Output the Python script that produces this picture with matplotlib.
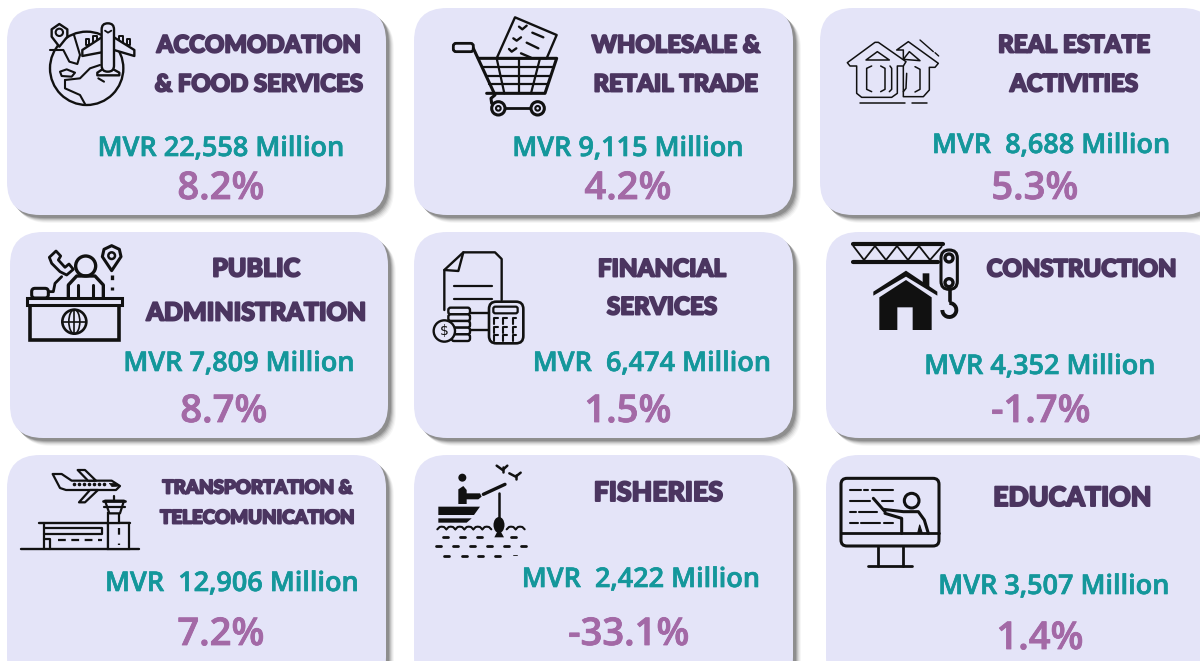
import numpy as np
import matplotlib
matplotlib.use("Agg")
import matplotlib.pyplot as plt
from matplotlib.patches import FancyBboxPatch, Circle, Polygon, Rectangle, Arc, Ellipse
import matplotlib.patheffects as pe

W, H = 1200, 661
CARD = "#E4E4F8"; TITLE = "#4B3560"; TEAL = "#14979B"; PURPLE = "#A369A6"; INK = "#111111"

sectors_line1 = ["ACCOMODATION", "WHOLESALE &", "REAL ESTATE", "PUBLIC", "FINANCIAL", "CONSTRUCTION", "TRANSPORTATION &", "FISHERIES", "EDUCATION"]
sectors_line2 = ["& FOOD SERVICES", "RETAIL TRADE", "ACTIVITIES", "ADMINISTRATION", "SERVICES", "", "TELECOMUNICATION", "", ""]
amounts = ["MVR 22,558 Million", "MVR 9,115 Million", "MVR  8,688 Million", "MVR 7,809 Million", "MVR  6,474 Million", "MVR 4,352 Million", "MVR  12,906 Million", "MVR  2,422 Million", "MVR 3,507 Million"]
growth = ["8.2%", "4.2%", "5.3%", "8.7%", "1.5%", "-1.7%", "7.2%", "-33.1%", "1.4%"]

card_boxes = [(7,8,386,215),(414,8,793,215),(820,8,1215,215),
              (10,232,388,438),(414,232,793,438),(826,232,1215,438),
              (7,455,386,690),(414,455,793,690),(826,455,1215,690)]
title_x = [259,676,1074,256,662,1082,257,658,1072]
title_y1 = [45,45,45,269,269,269,488,493,498]
title_y2 = [84,84,84,313,307,0,518,0,0]
title_fs = [17.2,17.2,17.4,18.0,17.4,17.2,13.5,19.2,19.2]
amount_x = [221,628,1051,239,652,1040,232,641,1054]
amount_y = [149,149,146,364,364,367,584,580,587]
growth_x = [221,628,1035,224,628,1041,221,629,1040]
growth_y = [189,189,189,412,412,412,635,635,639]

fig = plt.figure(figsize=(12, 6.61), dpi=100)
ax = fig.add_axes([0, 0, 1, 1])
ax.set_xlim(0, W); ax.set_ylim(H, 0); ax.axis("off")

# icon drawing helpers: coordinates are given in 3x units from an origin
O = [0, 0]
def X(v): return O[0] + v / 3
def Y(v): return O[1] + v / 3
def XY(pts): return [(X(a), Y(b)) for a, b in pts]
def L(pts, lw=1.6, c=INK, z=5, **k):
    p = XY(pts)
    ax.plot([a for a, _ in p], [b for _, b in p], color=c, lw=lw, solid_capstyle="round",
            solid_joinstyle="round", zorder=z, **k)
def C(x, y, r, lw=1.6, fc="none", ec=INK, z=5):
    ax.add_patch(Circle((X(x), Y(y)), r / 3, fc=fc, ec=ec, lw=lw, zorder=z))
def P(pts, lw=1.6, fc="none", ec=INK, z=5):
    ax.add_patch(Polygon(XY(pts), closed=True, fc=fc, ec=ec, lw=lw, joinstyle="round", zorder=z))
def RR(x0, y0, x1, y1, r=6, lw=1.6, fc="none", ec=INK, z=5):
    ax.add_patch(FancyBboxPatch((X(x0), Y(y0)), (x1-x0)/3, (y1-y0)/3,
                 boxstyle=f"round,pad=0,rounding_size={r/3}", fc=fc, ec=ec, lw=lw, zorder=z))
def R(x0, y0, x1, y1, lw=1.6, fc="none", ec=INK, z=5):
    ax.add_patch(Rectangle((X(x0), Y(y0)), (x1-x0)/3, (y1-y0)/3, fc=fc, ec=ec, lw=lw, zorder=z))

# cards
for (x0, y0, x1, y1) in card_boxes:
    for off, a in [(8,.05),(7,.08),(6,.11),(5,.16),(4,.24),(3,.3)]:
        ax.add_patch(FancyBboxPatch((x0+off, y0+off), x1-x0, y1-y0, boxstyle="round,pad=0,rounding_size=33",
                                    fc="#555555", ec="none", alpha=a, zorder=1))
    ax.add_patch(FancyBboxPatch((x0, y0), x1-x0, y1-y0, boxstyle="round,pad=0,rounding_size=33",
                                fc=CARD, ec="none", zorder=2))

# icon 1: globe, pin, plane
O[:] = [0, 0]
C(260, 205, 110, lw=1.7)
L([(150,150),(190,150),(208,185),(232,192),(240,165),(222,105)],lw=1.5)
P([(180,215),(200,208),(225,218),(215,230),(185,228)],lw=1.5)
L([(195,240),(240,235),(270,205),(300,195)],lw=1.5)
L([(195,240),(195,265),(240,285),(255,312)],lw=1.5)
L([(295,235),(312,245)],lw=1.5)
P([(178,140),(155,110),(155,88),(178,72),(202,88),(202,110)],fc=CARD,lw=1.7,z=6)
C(178,97,11,lw=1.5,z=7)
P([(258,135),(258,118),(268,118),(268,135)],fc=CARD,lw=1.4,z=6)
P([(280,125),(280,108),(290,108),(290,125)],fc=CARD,lw=1.4,z=6)
P([(358,125),(358,108),(368,108),(368,125)],fc=CARD,lw=1.4,z=6)
P([(380,135),(380,118),(390,118),(390,135)],fc=CARD,lw=1.4,z=6)
P([(305,112),(247,150),(247,168),(342,150),(403,168),(403,150),(342,112)],fc=CARD,lw=1.7,z=6)
P([(292,218),(322,198),(358,218),(358,226),(292,226)],fc=CARD,lw=1.7,z=6)
RR(305,70,342,215,r=18,fc=CARD,lw=1.7,z=7)
L([(315,92),(324,98),(334,92)],lw=1.3,z=8)

# icon 2: cart
O[:] = [445, 10]
P([(210,22),(335,75),(305,145),(155,145)],fc=CARD,lw=1.7)
for a in [[(222,50),(232,58),(245,47)],[(205,85),(215,92),(228,82)],[(192,117),(200,125),(214,115)],
          [(262,68),(295,82)],[(245,98),(280,115)],[(228,130),(258,143)]]:
    L(a,lw=1.7)
RR(25,100,85,125,r=8,lw=2,fc=CARD)
L([(85,115),(150,255),(138,265),(140,280)],lw=2.2)
L([(100,145),(335,145),(300,250),(125,250)],lw=2.2)
for y, a, b in [(170,110,325),(197,122,316),(222,133,307)]:
    L([(a,y),(b,y)],lw=1.6)
L([(155,145),(178,250)],lw=1.6); L([(222,145),(222,250)],lw=1.6); L([(285,145),(258,250)],lw=1.6)
L([(180,295),(258,295)],lw=2)
for x in (160,278):
    C(x,295,20,lw=2.2,fc=CARD); C(x,295,7,lw=1.5)

# icon 3: houses
O[:] = [840, 30]
P([(170,60),(205,35),(295,100),(285,112),(268,112),(268,180),(250,200),(190,200),(190,60)],lw=1.1,fc=CARD)
P([(190,88),(208,65),(240,92)],lw=1.1)
L([(225,110),(240,118),(240,178),(225,186)],lw=1.1)
L([(200,130),(198,175),(190,185)],lw=1.1)
P([(22,98),(105,37),(115,37),(198,95),(190,108),(172,108),(172,190),(155,202),(65,202),(50,190),(50,108),(30,108)],lw=1.1,fc=CARD)
P([(78,90),(112,65),(148,90)],lw=1.1)
L([(95,108),(80,115),(80,178),(95,185)],lw=1.1)
L([(122,108),(135,115),(135,178),(122,185)],lw=1.1)
L([(150,108),(155,115),(155,178),(148,185)],lw=1.1)
L([(60,218),(195,218)],lw=1.1); L([(215,218),(260,218)],lw=1.1)
L([(240,30),(280,65)],lw=1); L([(285,68),(296,78)],lw=1)

# icon 4: public administration
O[:] = [20, 240]
R(30,195,298,300,lw=2.6)
R(20,175,305,195,lw=2.2,fc=CARD)
C(163,245,36,lw=1.9)
L([(127,245),(199,245)],lw=1.2); L([(163,209),(163,281)],lw=1.2)
ax.add_patch(Ellipse((X(163),Y(245)),11,24,fc="none",ec=INK,lw=1.2,zorder=5))
C(197,78,30,lw=2.4)
L([(145,172),(145,135),(170,108),(225,108),(250,135),(250,172)],lw=2.4)
L([(175,135),(175,172)],lw=2.2); L([(218,135),(218,172)],lw=2.2)
P([(88,52),(108,33),(122,48),(115,60),(135,82),(147,72),(160,88),(140,105),(120,95),(95,70)],lw=2,fc=CARD)
L([(125,110),(105,130),(100,155),(85,155)],lw=2)
RR(35,145,85,174,r=10,lw=2.2,fc=CARD)
P([(275,92),(247,50),(252,28),(275,17),(298,28),(303,50)],lw=2.2)
C(275,47,10,lw=1.8)
L([(275,105),(275,150)],lw=2.4,ls=(0,(1.4,2.2)))

# icon 5: finance
O[:] = [435, 245]
L([(28,195),(28,75),(85,22),(180,22),(200,42),(200,165)],lw=1.7)
L([(28,75),(70,78),(85,22)],lw=1.7)
L([(58,122),(170,122)],lw=1.6); L([(58,162),(170,162)],lw=1.6)
L([(105,205),(160,205)],lw=1.7); L([(105,255),(160,255)],lw=1.7)
for y0, x0 in [(188,40),(208,40),(228,40),(248,40),(268,50)]:
    RR(x0,y0,105,y0+20,r=7,lw=1.7,fc=CARD,z=6)
RR(162,170,265,295,r=22,lw=1.9,fc=CARD,z=6)
RR(175,185,248,205,r=6,lw=1.6,z=7)
for y in (220,245,270):
    for x in (178,205,233):
        L([(x+10,y),(x,y),(x,y+18)],lw=1.5,z=7)
C(28,258,32,lw=1.7,fc=CARD,z=7)
ax.text(X(28),Y(259),"$",ha="center",va="center",fontsize=10,color=INK,zorder=8)

# icon 6: construction
O[:] = [820, 230]
L([(100,42),(370,42)],lw=3); L([(100,95),(355,95)],lw=3)
L([(100,48),(132,90),(165,48),(198,90),(231,48),(264,90),(297,48),(330,90),(365,50)],lw=1.3)
RR(363,60,412,178,r=24,lw=2.2,fc=CARD)
C(387,84,12,lw=2.4); C(387,158,12,lw=2.4)
L([(390,178),(390,212)],lw=2.6)
ax.add_patch(Arc((X(388),Y(240)),14,14,theta1=-90,theta2=180,ec=INK,lw=2.8,zorder=5))
P([(308,130),(328,130),(328,175),(308,160)],fc=INK,lw=0)
P([(160,185),(258,122),(352,185),(352,197),(258,140),(160,197)],fc=INK,lw=0)
P([(178,202),(258,150),(335,202),(335,300),(278,300),(278,232),(232,232),(232,300),(178,300)],fc=INK,lw=0)

# icon 7: airport
O[:] = [0, 450]
L([(63,296),(416,296)],lw=1.7)
L([(117,218),(390,218)],lw=1.7)
L([(132,218),(132,296)]); L([(325,218),(325,296)])
L([(132,235),(305,235),(305,252),(132,252)])
L([(132,268),(150,268),(150,296)])
L([(175,270),(305,270)],ls=(0,(3.5,2.5)))
R(325,218,388,296,fc=CARD)
L([(357,235),(357,285)],ls=(0,(3,4)))
R(325,190,358,218,fc=CARD)
P([(315,152),(372,152),(360,190),(328,190)],fc=CARD)
L([(310,152),(375,152)],lw=2); L([(343,138),(343,152)]); L([(312,170),(375,170)])
P([(158,72),(185,72),(215,92),(335,92),(360,108),(348,120),(198,120),(180,114)],fc=CARD)
P([(233,60),(255,60),(288,92),(264,92)],fc=CARD)
P([(270,120),(294,120),(255,157),(237,157)],fc=CARD)
ax.scatter(np.arange(74,107,5),[484]*7,s=2.5,c=INK,zorder=6)
P([(328,100),(348,100),(360,108),(336,110)],fc=INK,lw=.5)

# icon 8: fisheries
O[:] = [430, 460]
C(97,53,12,lw=0,fc=INK)
P([(85,132),(85,88),(100,78),(110,90),(110,100),(150,100),(155,110),(145,118),(110,118),(110,132)],fc=INK,lw=0)
L([(160,103),(225,73)],lw=2.4)
L([(207,98),(207,175)],lw=1.8)
ax.add_patch(Ellipse((X(207),Y(195)),11,16,fc=INK,ec="none",zorder=5))
P([(207,205),(193,232),(222,232)],fc=INK,lw=0)
P([(25,140),(150,140),(132,165),(25,165)],fc=INK,lw=0)
P([(25,175),(125,175),(110,188),(25,188)],fc=INK,lw=0)
for x0, n in [(22,6),(230,2)]:
    for j in range(n):
        s = x0 + j * 27
        L([(s,208),(s+7,201),(s+13,200),(s+20,201),(s+27,208)],lw=1.5)
for y, xs in [(230,[38,90,140,243]),(258,[18,70,120,170,222,272]),(287,[43,95,145,195])]:
    for x in xs:
        L([(x,y),(x+15,y)],lw=2)
L([(248,285),(262,285)],lw=.6)
L([(200,17),(218,30),(232,17)],lw=1.8); L([(218,22),(218,36)],lw=1.8)
L([(238,40),(257,50),(272,38)],lw=1.8); L([(257,44),(257,57)],lw=1.8)

# icon 9: education
O[:] = [835, 470]
RR(18,25,312,228,r=18,lw=2.2)
L([(18,190),(312,190)],lw=2)
L([(128,230),(128,288)],lw=2); L([(203,230),(203,288)],lw=2); L([(100,288),(232,288)],lw=2)
C(230,92,22,lw=2.2)
L([(115,85),(150,125)],lw=2.2)
L([(145,118),(205,125),(250,125),(268,150),(280,190)],lw=2.2)
L([(150,130),(200,145),(200,190)],lw=2.2)
P([(248,190),(254,165),(262,190)],fc=INK,lw=0.8)
for y, segs in [(60,[(45,78),(88,100),(112,175)]),(92,[(45,105),(140,175)]),
                (127,[(45,62),(72,125)]),(160,[(45,68),(78,135),(148,175)])]:
    for a, b in segs:
        L([(a,y),(b,y)],lw=1.5)

# text
def title(x, y, s, fs):
    t = ax.text(x, y, s, ha="center", va="center", fontsize=fs, color=TITLE, family="Lato", weight="black", zorder=8)
    t.set_path_effects([pe.withStroke(linewidth=1.4, foreground=TITLE)])

for i in range(len(growth)):
    title(title_x[i], title_y1[i], sectors_line1[i], title_fs[i])
    if sectors_line2[i]:
        title(title_x[i], title_y2[i], sectors_line2[i], title_fs[i])
    t = ax.text(amount_x[i], amount_y[i], amounts[i], ha="center", va="center", fontsize=19.5, color=TEAL,
                family="Open Sans", weight="semibold", zorder=8)
    t.set_path_effects([pe.withStroke(linewidth=0.5, foreground=TEAL)])
    t = ax.text(growth_x[i], growth_y[i], growth[i], ha="center", va="center", fontsize=27.5, color=PURPLE,
                family="Open Sans", weight="semibold", zorder=8)
    t.set_path_effects([pe.withStroke(linewidth=0.6, foreground=PURPLE)])

fig.savefig("out.png", dpi=100, facecolor="white")
